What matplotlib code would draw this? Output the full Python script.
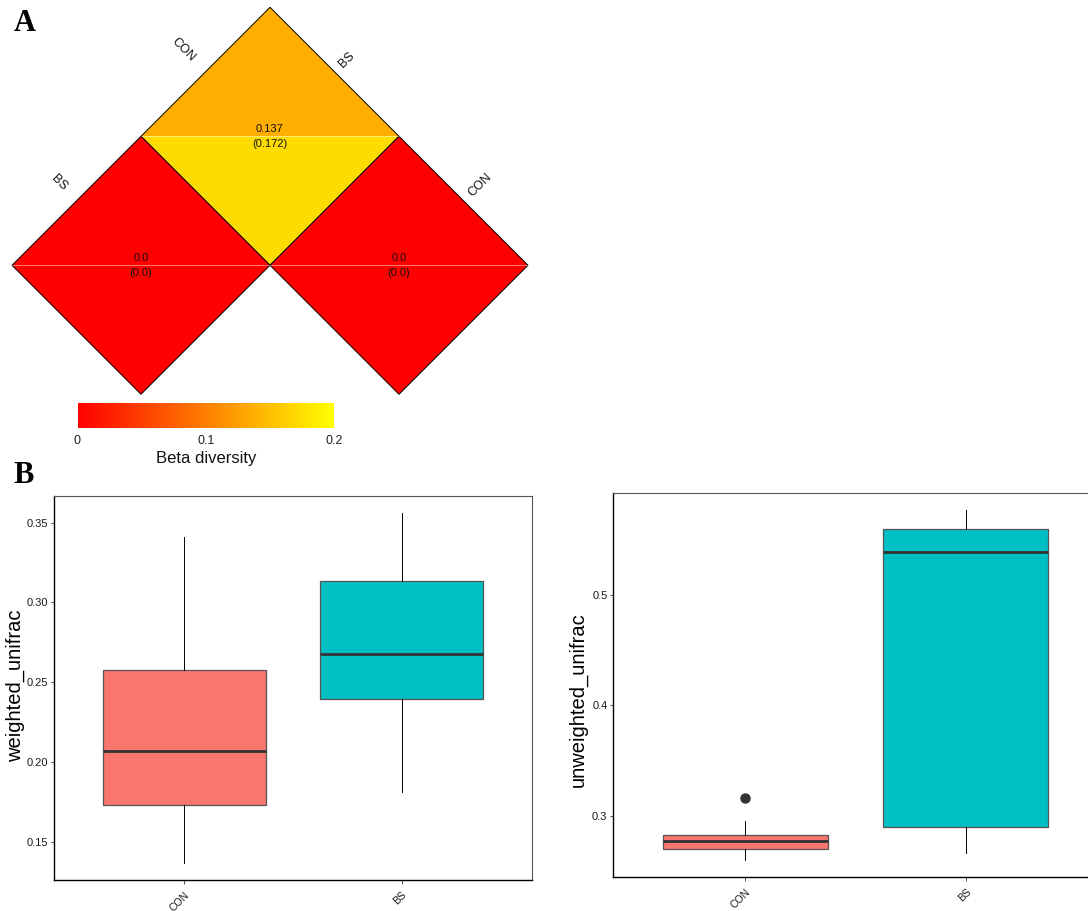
import numpy as np
import matplotlib
matplotlib.use("Agg")
import matplotlib.pyplot as plt
from matplotlib.colors import LinearSegmentedColormap, Normalize
from matplotlib.cm import ScalarMappable
from matplotlib.patches import Polygon

# ---- data -------------------------------------------------------------
row_labels = ["CON", "BS"]
col_labels = ["BS", "CON"]
# upper triangle of the pairwise beta-diversity matrix (nan = not shown)
weighted_matrix = [[0.137, 0.0],
                   [0.0, np.nan]]
unweighted_matrix = [[0.172, 0.0],
                     [0.0, np.nan]]

groups = ["CON", "BS"]
w_q1 = [0.1732, 0.2397]
w_med = [0.2066, 0.2676]
w_q3 = [0.2576, 0.3134]
w_lo = [0.1368, 0.1811]
w_hi = [0.3412, 0.3558]
w_fliers = [[], []]

u_q1 = [0.2701, 0.2901]
u_med = [0.2767, 0.5386]
u_q3 = [0.2828, 0.5597]
u_lo = [0.2602, 0.2662]
u_hi = [0.2948, 0.5765]
u_fliers = [[0.3163], []]

w_ticks = [0.15, 0.20, 0.25, 0.30, 0.35]
w_ticklabels = ["0.15", "0.20", "0.25", "0.30", "0.35"]
u_ticks = [0.3, 0.4, 0.5]
u_ticklabels = ["0.3", "0.4", "0.5"]
cbar_ticks = [0, 0.1, 0.2]
cbar_ticklabels = ["0", "0.1", "0.2"]

# ---- figure -----------------------------------------------------------
W, H = 1088, 911
plt.rcParams['font.family'] = ['Liberation Sans', 'DejaVu Sans']
fig = plt.figure(figsize=(W / 100, H / 100), dpi=100)


def px_axes(x0, y0, x1, y1):
    return fig.add_axes([x0 / W, 1 - y1 / H, (x1 - x0) / W, (y1 - y0) / H])


cmap = LinearSegmentedColormap.from_list("ry", ["#FF0000", "#FFFF00"])
norm = Normalize(vmin=0, vmax=0.2)

# ---- A: rotated heatmap ----------------------------------------------
hx = px_axes(12, 7.3, 528, 394.3)
hx.set_xlim(-2, 2)
hx.set_ylim(-2, 1)
hx.axis("off")

for i in range(len(row_labels)):
    for j in range(len(col_labels)):
        wv = weighted_matrix[i][j]
        uv = unweighted_matrix[i][j]
        if np.isnan(wv):
            continue
        cx, cy = j - i, -(i + j)
        upper = [(cx - 1, cy), (cx, cy + 1), (cx + 1, cy)]
        lower = [(cx - 1, cy), (cx + 1, cy), (cx, cy - 1)]
        hx.add_patch(Polygon(upper, closed=True, facecolor=cmap(norm(wv)),
                             edgecolor="none", clip_on=False))
        hx.add_patch(Polygon(lower, closed=True, facecolor=cmap(norm(uv)),
                             edgecolor="none", clip_on=False))
        hx.plot([cx - 1, cx + 1], [cy, cy], color="white", alpha=0.35,
                lw=0.6, clip_on=False)
        diamond = [(cx - 1, cy), (cx, cy + 1), (cx + 1, cy), (cx, cy - 1)]
        hx.add_patch(Polygon(diamond, closed=True, fill=False,
                             edgecolor="black", lw=0.7, clip_on=False))
        hx.text(cx, cy + 0.058, f"{wv}", ha="center", va="center",
                fontsize=8, color="#111111")
        hx.text(cx, cy - 0.062, f"({uv})", ha="center", va="center",
                fontsize=8, color="#111111")

row_gap = 17 / 129 / np.sqrt(2)
col_gap = 9 / 129 / np.sqrt(2)
for i, lab in enumerate(row_labels):
    mx, my = -i - 0.5, -i + 0.5
    hx.text(mx - row_gap, my + row_gap, lab, rotation=-45,
            rotation_mode="anchor", ha="right", va="center", fontsize=9,
            color="#111111")
for j, lab in enumerate(col_labels):
    mx, my = j + 0.5, -j + 0.5
    hx.text(mx + col_gap, my + col_gap, lab, rotation=45,
            rotation_mode="anchor", ha="left", va="center", fontsize=9,
            color="#111111")

# colour bar
cax = px_axes(77.5, 403, 334, 428)
cb = fig.colorbar(ScalarMappable(norm=norm, cmap=cmap), cax=cax,
                  orientation="horizontal")
cb.set_ticks(cbar_ticks)
cb.set_ticklabels(cbar_ticklabels)
cb.outline.set_visible(False)
cax.tick_params(length=0, labelsize=9, pad=5, labelcolor="#222222")
cb.set_label("Beta diversity", fontsize=12, labelpad=3, color="#111111")

# ---- B: boxplots -----------------------------------------------------
fills = ["#F8766D", "#00BFC4"]


def draw_box(ax, q1, med, q3, lo, hi, fliers, ylabel, ticks, ticklabels):
    stats = []
    for k in range(len(groups)):
        stats.append(dict(med=med[k], q1=q1[k], q3=q3[k], whislo=lo[k],
                          whishi=hi[k], fliers=fliers[k], label=groups[k]))
    bp = ax.bxp(stats, positions=[1, 2], widths=0.75, patch_artist=True,
                showcaps=False,
                boxprops=dict(edgecolor="#555555", linewidth=0.9),
                medianprops=dict(color="#333333", linewidth=2.0),
                whiskerprops=dict(color="black", linewidth=0.7),
                flierprops=dict(marker="o", markerfacecolor="#333333",
                                markeredgecolor="#333333", markersize=6.5))
    for patch, c in zip(bp["boxes"], fills):
        patch.set_facecolor(c)
    allv = list(lo) + list(hi) + [v for f in fliers for v in f]
    vmin, vmax = min(allv), max(allv)
    pad = 0.05 * (vmax - vmin)
    ax.set_ylim(vmin - pad, vmax + pad)
    ax.set_xlim(0.4, 2.6)
    ax.set_yticks(ticks)
    ax.set_yticklabels(ticklabels)
    ax.set_xticks([1, 2])
    ax.set_xticklabels(groups, rotation=45, ha="right",
                       rotation_mode="anchor")
    ax.tick_params(axis="y", labelsize=8, length=2.5, width=0.6,
                   color="#333333", labelcolor="#1a1a1a", pad=1.5)
    ax.tick_params(axis="x", labelsize=7.5, length=3, width=0.6,
                   color="#333333", labelcolor="#1a1a1a", pad=4)
    for s in ("left", "bottom"):
        ax.spines[s].set_color("black")
        ax.spines[s].set_linewidth(1.0)
    for s in ("top", "right"):
        ax.spines[s].set_color("#555555")
        ax.spines[s].set_linewidth(0.8)
    ax.set_ylabel(ylabel, fontsize=14.5, color="black")


ax1 = px_axes(54, 496, 532, 880)
draw_box(ax1, w_q1, w_med, w_q3, w_lo, w_hi, w_fliers,
         "weighted_unifrac", w_ticks, w_ticklabels)
ax1.yaxis.set_label_coords(-0.06, 0.505)

ax2 = px_axes(613, 493, 1098, 877)
draw_box(ax2, u_q1, u_med, u_q3, u_lo, u_hi, u_fliers,
         "unweighted_unifrac", u_ticks, u_ticklabels)
ax2.yaxis.set_label_coords(-0.053, 0.461)

# panel letters
fig.text(14 / W, 1 - 31 / H, "A", family="Liberation Serif",
         fontweight="bold", fontsize=22, va="baseline")
fig.text(13 / W, 1 - 483 / H, "B", family="Liberation Serif",
         fontweight="bold", fontsize=22, va="baseline")

fig.savefig("out.png", dpi=100)
